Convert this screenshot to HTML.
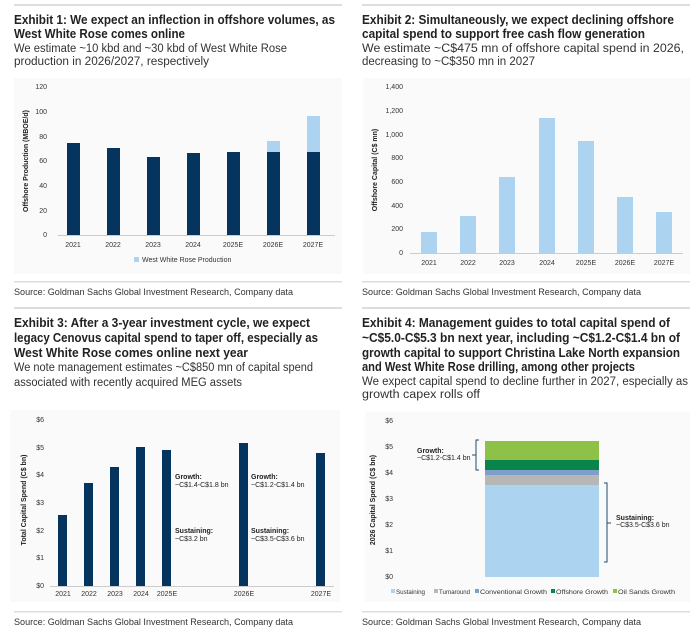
<!DOCTYPE html>
<html><head><meta charset="utf-8"><style>
html,body{margin:0;padding:0;background:#fff;}
svg{display:block;font-family:"Liberation Sans",sans-serif;}
.t{font-size:12.5px;font-weight:bold;fill:#222;}
.s{font-size:11.5px;fill:#333;}
.src{font-size:9.5px;fill:#333;}
.ax{font-size:7px;fill:#333;}
.lg{font-size:6.5px;fill:#333;}
.yt{font-size:7px;font-weight:bold;fill:#222;}
.an{font-size:7px;fill:#222;}
</style></head><body>
<svg width="696" height="638" viewBox="0 0 696 638" xmlns="http://www.w3.org/2000/svg">
<rect x="14" y="4" width="328" height="2" fill="#ddd"/>
<rect x="362" y="4" width="328" height="2" fill="#ddd"/>
<rect x="14" y="281" width="328" height="1.5" fill="#ddd"/>
<rect x="362" y="281" width="328" height="1.5" fill="#ddd"/>
<rect x="14" y="307" width="328" height="2" fill="#ddd"/>
<rect x="362" y="307" width="328" height="2" fill="#ddd"/>
<rect x="14" y="611" width="328" height="1.5" fill="#ddd"/>
<rect x="362" y="611" width="328" height="1.5" fill="#ddd"/>

<text class="t" x="14" y="24" textLength="321" lengthAdjust="spacingAndGlyphs">Exhibit 1: We expect an inflection in offshore volumes, as</text>
<text class="t" x="14" y="38" textLength="171" lengthAdjust="spacingAndGlyphs">West White Rose comes online</text>
<text class="s" x="14" y="52" textLength="273" lengthAdjust="spacingAndGlyphs">We estimate ~10 kbd and ~30 kbd of West White Rose</text>
<text class="s" x="14" y="65" textLength="195" lengthAdjust="spacingAndGlyphs">production in 2026/2027, respectively</text>
<text class="t" x="362" y="24" textLength="312" lengthAdjust="spacingAndGlyphs">Exhibit 2: Simultaneously, we expect declining offshore</text>
<text class="t" x="362" y="38" textLength="283" lengthAdjust="spacingAndGlyphs">capital spend to support free cash flow generation</text>
<text class="s" x="362" y="52" textLength="322" lengthAdjust="spacingAndGlyphs">We estimate ~C$475 mn of offshore capital spend in 2026,</text>
<text class="s" x="362" y="65" textLength="173" lengthAdjust="spacingAndGlyphs">decreasing to ~C$350 mn in 2027</text>

<rect x="14" y="78" width="328" height="196" fill="#fafafa"/>
<g class="ax" text-anchor="end">
<text x="47" y="89">120</text><text x="47" y="114">100</text><text x="47" y="139">80</text>
<text x="47" y="163">60</text><text x="47" y="188">40</text><text x="47" y="213">20</text><text x="47" y="237">0</text>
</g>
<text class="yt" transform="translate(28,161) rotate(-90)" text-anchor="middle">Offshore Production (MBOE/d)</text>
<line x1="58" y1="235.5" x2="335" y2="235.5" stroke="#ccc" stroke-width="1"/>
<g fill="#05355e">
<rect x="67" y="143" width="13" height="92"/>
<rect x="107" y="148" width="13" height="87"/>
<rect x="147" y="157" width="13" height="78"/>
<rect x="187" y="153" width="13" height="82"/>
<rect x="227" y="152" width="13" height="83"/>
<rect x="267" y="152" width="13" height="83"/>
<rect x="307" y="152" width="13" height="83"/>
</g>
<g fill="#acd3f0">
<rect x="267" y="141" width="13" height="11"/>
<rect x="307" y="116" width="13" height="36"/>
</g>
<g class="ax" text-anchor="middle">
<text x="73" y="247">2021</text><text x="113" y="247">2022</text><text x="153" y="247">2023</text>
<text x="193" y="247">2024</text><text x="233" y="247">2025E</text><text x="273" y="247">2026E</text><text x="313" y="247">2027E</text>
</g>
<rect x="134" y="257" width="5" height="5" fill="#acd3f0"/>
<text class="ax" x="142" y="262">West White Rose Production</text>

<rect x="363" y="78" width="327" height="196" fill="#fafafa"/>
<g class="ax" text-anchor="end">
<text x="403" y="89">1,400</text><text x="403" y="113">1,200</text><text x="403" y="137">1,000</text>
<text x="403" y="160">800</text><text x="403" y="184">600</text><text x="403" y="208">400</text>
<text x="403" y="231">200</text><text x="403" y="255">0</text>
</g>
<text class="yt" transform="translate(377,170) rotate(-90)" text-anchor="middle">Offshore Capital (C$ mn)</text>
<line x1="410" y1="253.5" x2="683" y2="253.5" stroke="#ccc" stroke-width="1"/>
<g fill="#acd3f0">
<rect x="421" y="232" width="16" height="21"/>
<rect x="460" y="216" width="16" height="37"/>
<rect x="499" y="177" width="16" height="76"/>
<rect x="539" y="118" width="16" height="135"/>
<rect x="578" y="141" width="16" height="112"/>
<rect x="617" y="197" width="16" height="56"/>
<rect x="656" y="212" width="16" height="41"/>
</g>
<g class="ax" text-anchor="middle">
<text x="429" y="265">2021</text><text x="468" y="265">2022</text><text x="507" y="265">2023</text>
<text x="547" y="265">2024</text><text x="586" y="265">2025E</text><text x="625" y="265">2026E</text><text x="664" y="265">2027E</text>
</g>

<text class="src" x="14" y="295" textLength="279" lengthAdjust="spacingAndGlyphs">Source: Goldman Sachs Global Investment Research, Company data</text>
<text class="src" x="362" y="295" textLength="279" lengthAdjust="spacingAndGlyphs">Source: Goldman Sachs Global Investment Research, Company data</text>

<text class="t" x="14" y="327" textLength="296" lengthAdjust="spacingAndGlyphs">Exhibit 3: After a 3-year investment cycle, we expect</text>
<text class="t" x="14" y="342" textLength="304" lengthAdjust="spacingAndGlyphs">legacy Cenovus capital spend to taper off, especially as</text>
<text class="t" x="14" y="357" textLength="234" lengthAdjust="spacingAndGlyphs">West White Rose comes online next year</text>
<text class="s" x="14" y="371" textLength="299" lengthAdjust="spacingAndGlyphs">We note management estimates ~C$850 mn of capital spend</text>
<text class="s" x="14" y="386" textLength="228" lengthAdjust="spacingAndGlyphs">associated with recently acquired MEG assets</text>
<text class="t" x="362" y="327" textLength="308" lengthAdjust="spacingAndGlyphs">Exhibit 4: Management guides to total capital spend of</text>
<text class="t" x="362" y="342" textLength="318" lengthAdjust="spacingAndGlyphs">~C$5.0-C$5.3 bn next year, including ~C$1.2-C$1.4 bn of</text>
<text class="t" x="362" y="357" textLength="318" lengthAdjust="spacingAndGlyphs">growth capital to support Christina Lake North expansion</text>
<text class="t" x="362" y="371" textLength="273" lengthAdjust="spacingAndGlyphs">and West White Rose drilling, among other projects</text>
<text class="s" x="362" y="385" textLength="326" lengthAdjust="spacingAndGlyphs">We expect capital spend to decline further in 2027, especially as</text>
<text class="s" x="362" y="398" textLength="118" lengthAdjust="spacingAndGlyphs">growth capex rolls off</text>

<rect x="10" y="410" width="330" height="192" fill="#fafafa"/>
<g class="ax" text-anchor="end">
<text x="44" y="422">$6</text><text x="44" y="450">$5</text><text x="44" y="477">$4</text>
<text x="44" y="505">$3</text><text x="44" y="533">$2</text><text x="44" y="560">$1</text><text x="44" y="588">$0</text>
</g>
<text class="yt" transform="translate(26,500) rotate(-90)" text-anchor="middle">Total Capital Spend (C$ bn)</text>
<line x1="50" y1="586.5" x2="334" y2="586.5" stroke="#ccc" stroke-width="1"/>
<g fill="#05355e">
<rect x="58" y="515" width="9" height="71"/>
<rect x="84" y="483" width="9" height="103"/>
<rect x="110" y="467" width="9" height="119"/>
<rect x="136" y="447" width="9" height="139"/>
<rect x="162" y="450" width="9" height="136"/>
<rect x="239" y="443" width="9" height="143"/>
<rect x="316" y="453" width="9" height="133"/>
</g>
<g class="ax" text-anchor="middle">
<text x="63" y="596">2021</text><text x="89" y="596">2022</text><text x="115" y="596">2023</text>
<text x="141" y="596">2024</text><text x="167" y="596">2025E</text><text x="244" y="596">2026E</text><text x="321" y="596">2027E</text>
</g>
<text class="an" x="175" y="479" font-weight="bold">Growth:</text>
<text class="an" x="175" y="487">~C$1.4-C$1.8 bn</text>
<text class="an" x="175" y="533" font-weight="bold">Sustaining:</text>
<text class="an" x="175" y="541">~C$3.2 bn</text>
<text class="an" x="251" y="479" font-weight="bold">Growth:</text>
<text class="an" x="251" y="487">~C$1.2-C$1.4 bn</text>
<text class="an" x="251" y="533" font-weight="bold">Sustaining:</text>
<text class="an" x="251" y="541">~C$3.5-C$3.6 bn</text>

<rect x="365" y="412" width="325" height="190" fill="#fafafa"/>
<g class="ax" text-anchor="end">
<text x="393" y="423">$6</text><text x="393" y="449">$5</text><text x="393" y="475">$4</text>
<text x="393" y="501">$3</text><text x="393" y="527">$2</text><text x="393" y="553">$1</text><text x="393" y="579">$0</text>
</g>
<text class="yt" transform="translate(375,500) rotate(-90)" text-anchor="middle">2026 Capital Spend (C$ bn)</text>
<rect x="485" y="485" width="114" height="92" fill="#acd3f0"/>
<rect x="485" y="475" width="114" height="10" fill="#b7b7b7"/>
<rect x="485" y="470" width="114" height="5" fill="#7f9fcb"/>
<rect x="485" y="460" width="114" height="10" fill="#0a8549"/>
<rect x="485" y="441" width="114" height="19" fill="#8dc147"/>
<path d="M479,440 h-3 v30 h3 M476,455 h-4" stroke="#1f4a72" stroke-width="1" fill="none"/>
<path d="M604,483 h3 v79 h-3 M607,523 h4" stroke="#1f4a72" stroke-width="1" fill="none"/>
<text class="an" x="417" y="453" font-weight="bold">Growth:</text>
<text class="an" x="417" y="460">~C$1.2-C$1.4 bn</text>
<text class="an" x="616" y="520" font-weight="bold">Sustaining:</text>
<text class="an" x="616" y="527">~C$3.5-C$3.6 bn</text>
<g class="lg">
<rect x="391" y="589" width="4" height="4" fill="#acd3f0"/><text x="396" y="594" textLength="29" lengthAdjust="spacingAndGlyphs">Sustaining</text>
<rect x="434" y="589" width="4" height="4" fill="#b7b7b7"/><text x="439" y="594" textLength="31" lengthAdjust="spacingAndGlyphs">Turnaround</text>
<rect x="475" y="589" width="4" height="4" fill="#7f9fcb"/><text x="480" y="594" textLength="67" lengthAdjust="spacingAndGlyphs">Conventional Growth</text>
<rect x="551" y="589" width="4" height="4" fill="#0a8549"/><text x="556" y="594" textLength="52" lengthAdjust="spacingAndGlyphs">Offshore Growth</text>
<rect x="613" y="589" width="4" height="4" fill="#8dc147"/><text x="618" y="594" textLength="57" lengthAdjust="spacingAndGlyphs">Oil Sands Growth</text>
</g>

<text class="src" x="14" y="625" textLength="279" lengthAdjust="spacingAndGlyphs">Source: Goldman Sachs Global Investment Research, Company data</text>
<text class="src" x="362" y="625" textLength="279" lengthAdjust="spacingAndGlyphs">Source: Goldman Sachs Global Investment Research, Company data</text>
</svg>
</body></html>
